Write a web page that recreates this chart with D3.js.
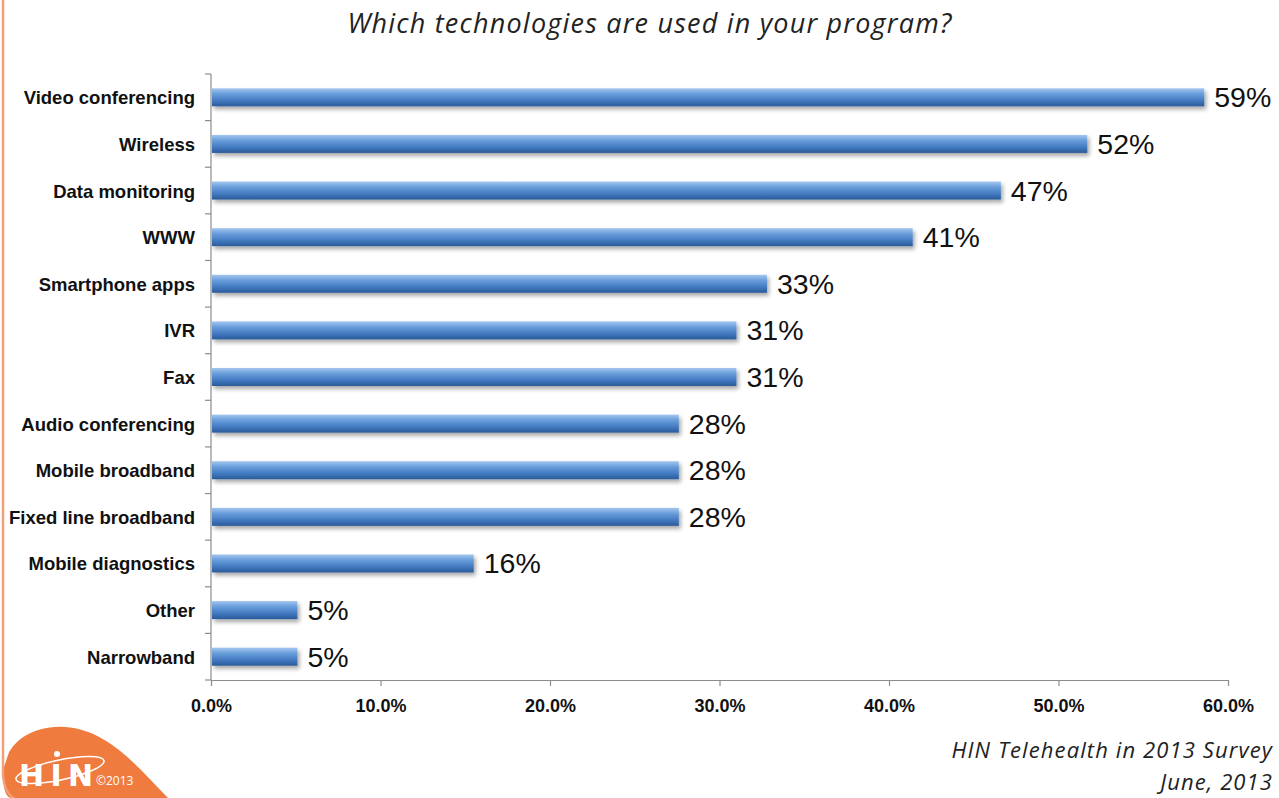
<!DOCTYPE html>
<html>
<head>
<meta charset="utf-8">
<script src="https://cdn.jsdelivr.net/npm/d3@7"></script>
<style>
  html, body { margin: 0; padding: 0; background: #fff; }
  svg { display: block; }
</style>
</head>
<body>
<svg id="chart" width="1279" height="798"></svg>
<script>
const categories = ["Video conferencing","Wireless","Data monitoring","WWW","Smartphone apps","IVR","Fax","Audio conferencing","Mobile broadband","Fixed line broadband","Mobile diagnostics","Other","Narrowband"];
const values = [0.586, 0.517, 0.466, 0.414, 0.328, 0.310, 0.310, 0.276, 0.276, 0.276, 0.155, 0.051, 0.051];
const valueLabels = ["59%","52%","47%","41%","33%","31%","31%","28%","28%","28%","16%","5%","5%"];
const xTicks = [0, 0.1, 0.2, 0.3, 0.4, 0.5, 0.6];
const titleText = "Which technologies are used in your program?";
const footerLines = ["HIN Telehealth in 2013 Survey", "June, 2013"];

(function(){
const svg = d3.select("#chart");
const defs = svg.append("defs");

const grad = defs.append("linearGradient").attr("id","barGrad").attr("x1",0).attr("y1",0).attr("x2",0).attr("y2",1);
grad.append("stop").attr("offset","0%").attr("stop-color","#a4c6ee");
grad.append("stop").attr("offset","30%").attr("stop-color","#6a9fdc");
grad.append("stop").attr("offset","70%").attr("stop-color","#4178bf");
grad.append("stop").attr("offset","100%").attr("stop-color","#2a5a98");

const shadow = defs.append("filter").attr("id","shadow").attr("x","-5%").attr("y","-30%").attr("width","115%").attr("height","190%");
shadow.append("feGaussianBlur").attr("in","SourceAlpha").attr("stdDeviation",2);
shadow.append("feOffset").attr("dx",2).attr("dy",3).attr("result","ob");
shadow.append("feComponentTransfer").append("feFuncA").attr("type","linear").attr("slope",0.35);
const merge = shadow.append("feMerge");
merge.append("feMergeNode");
merge.append("feMergeNode").attr("in","SourceGraphic");

// Title
svg.append("text").attr("x",650).attr("y",33).attr("text-anchor","middle")
  .attr("font-family","'Open Sans', sans-serif").attr("font-style","italic")
  .attr("font-size",27).attr("letter-spacing",1.2).attr("fill","#222").text(titleText);

const mLeft = 211, mRight = 1228, mTop = 74, mBottom = 680;
const x = d3.scaleLinear().domain([0, 0.6]).range([mLeft, mRight]);
const yFull = d3.scaleBand().domain(categories).range([mTop, mBottom]);

// bars
svg.append("g").selectAll("rect").data(categories).join("rect")
  .attr("x", mLeft + 1)
  .attr("y", (d) => yFull(d) + yFull.bandwidth()/2 - 9)
  .attr("width", (d,i) => x(values[i]) - mLeft - 1)
  .attr("height", 18)
  .attr("fill","url(#barGrad)")
  .attr("filter","url(#shadow)");

// y axis
const yAxisG = svg.append("g").attr("transform",`translate(${mLeft},0)`);
yAxisG.append("line").attr("x1",0).attr("x2",0).attr("y1",mTop).attr("y2",mBottom).attr("stroke","#8c8c8c").attr("stroke-width",1.2);
const yTickPos = d3.range(categories.length + 1).map(i => mTop + i * yFull.step());
yAxisG.selectAll("line.tick").data(yTickPos).join("line").attr("class","tick")
  .attr("x1",-6).attr("x2",0).attr("y1",d=>d).attr("y2",d=>d)
  .attr("stroke","#8c8c8c").attr("stroke-width",1.2);
yAxisG.selectAll("text").data(categories).join("text")
  .attr("x",-16).attr("y", d => yFull(d) + yFull.bandwidth()/2 + 7)
  .attr("text-anchor","end")
  .attr("font-family","'Liberation Sans', Arial, sans-serif").attr("font-weight","bold")
  .attr("font-size",18.5).attr("fill","#111").text(d => d);

// x axis
const xAxis = d3.axisBottom(x).tickValues(xTicks).tickFormat(d3.format(".1%")).tickSizeInner(6).tickSizeOuter(0).tickPadding(13);
const xAxisG = svg.append("g").attr("transform",`translate(0,${mBottom})`).call(xAxis);
xAxisG.select(".domain").attr("stroke","#8c8c8c").attr("stroke-width",1.2);
xAxisG.selectAll(".tick line").attr("stroke","#8c8c8c").attr("stroke-width",1.2);
xAxisG.selectAll(".tick text").attr("font-family","'Liberation Sans', Arial, sans-serif")
  .attr("font-weight","bold").attr("font-size",18).attr("fill","#111");

// value labels
svg.append("g").selectAll("text").data(categories).join("text")
  .attr("x",(d,i) => x(values[i]) + 10)
  .attr("y", d => yFull(d) + yFull.bandwidth()/2 + 10)
  .attr("font-family","'Liberation Sans', Arial, sans-serif")
  .attr("font-size",28.5).attr("fill","#111")
  .text((d,i) => valueLabels[i]);

// footer
svg.append("g").selectAll("text").data(footerLines).join("text")
  .attr("x",1273).attr("y",(d,i) => 758 + i*32).attr("text-anchor","end")
  .attr("font-family","'Open Sans', sans-serif").attr("font-style","italic")
  .attr("font-size",22).attr("letter-spacing",1.1).attr("fill","#222").text(d => d);

// logo
const logo = svg.append("g");
logo.append("path")
  .attr("d","M3,770 C3,790 6,798 12,798 L168,798 C140,770 110,730 65,727 C35,725 14,740 8,755 Z")
  .attr("fill","#f07b3f");
logo.append("path")
  .attr("d","M3,0 L3,775 C4,788 8,795 14,798")
  .attr("fill","none").attr("stroke","#f2a07a").attr("stroke-width",2.5);
logo.append("ellipse").attr("cx",60).attr("cy",770).attr("rx",45).attr("ry",10)
  .attr("transform","rotate(-12,60,770)")
  .attr("fill","none").attr("stroke","#fff").attr("stroke-width",1.5);
logo.append("circle").attr("cx",57).attr("cy",754).attr("r",3).attr("fill","#fff");
logo.append("text").attr("x",19).attr("y",786)
  .attr("font-family","'DejaVu Sans', sans-serif").attr("font-weight","bold")
  .attr("font-size",30).attr("fill","#fff").attr("textLength",74).text("HIN");
logo.append("text").attr("x",96).attr("y",785)
  .attr("font-family","'Open Sans', sans-serif")
  .attr("font-size",12).attr("fill","#fff").text("©2013");
})();
</script>
</body>
</html>
